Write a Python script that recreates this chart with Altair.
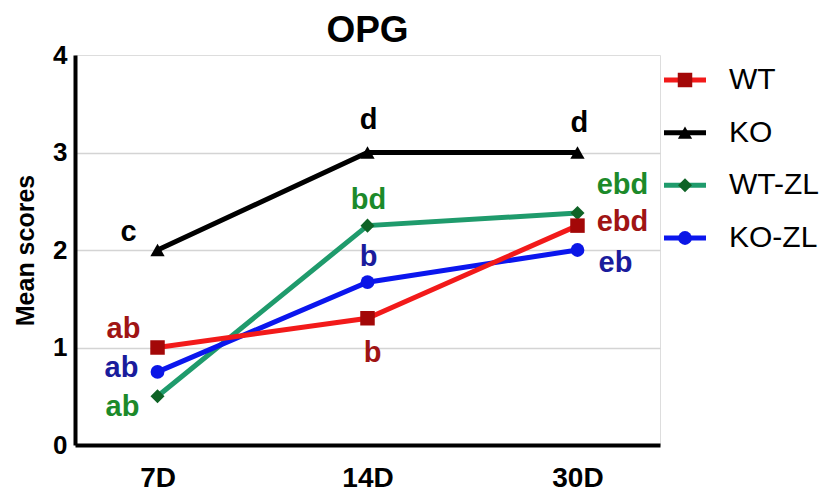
import altair as alt
import pandas as pd

days = ["7D", "14D", "30D"]
groups = ["WT", "KO", "WT-ZL", "KO-ZL"]
wt = [1.0, 1.3, 2.25]
ko = [2.0, 3.0, 3.0]
wt_zl = [0.5, 2.25, 2.38]
ko_zl = [0.75, 1.67, 2.0]
wt_letters = ["ab", "b", "ebd"]
ko_letters = ["c", "d", "d"]
wt_zl_letters = ["ab", "bd", "ebd"]
ko_zl_letters = ["ab", "b", "eb"]

series = {"WT": (wt, wt_letters), "KO": (ko, ko_letters),
          "WT-ZL": (wt_zl, wt_zl_letters), "KO-ZL": (ko_zl, ko_zl_letters)}
draw_order = ["WT-ZL", "KO-ZL", "WT", "KO"]
rows = []
for g in draw_order:
    vals, lets = series[g]
    for d, v, l in zip(days, vals, lets):
        rows.append({"group": g, "day": d, "value": v, "letter": l})
df = pd.DataFrame(rows)
legend_df = pd.DataFrame({"group": groups})

line_colors = ["#f21a1a", "#000000", "#1f9b6c", "#0b16ee"]
marker_colors = ["#a30808", "#000000", "#0f6326", "#0b16e6"]
letter_colors = {"WT": "#a01414", "KO": "#000000", "WT-ZL": "#1c8a2a", "KO-ZL": "#1a1c9c"}
shapes = ["square", "triangle-up", "diamond", "circle"]
sizes = {"WT": 210, "KO": 190, "WT-ZL": 150, "KO-ZL": 190}

FONT = "Liberation Sans"

x_enc = alt.X("day:N", sort=days,
              scale=alt.Scale(type="point", padding=0.393),
              axis=alt.Axis(title=None, labelAngle=0, labelFontSize=28, labelFontWeight="bold",
                            labelFont=FONT, labelColor="black", domainWidth=4, domainColor="black",
                            ticks=False, tickSize=0, labelPadding=19, grid=False))
y_enc = alt.Y("value:Q", scale=alt.Scale(domain=[0, 4]),
              axis=alt.Axis(title="Mean scores", values=[0, 1, 2, 3, 4], titleFontSize=25,
                            titleFont=FONT, titleFontWeight="bold", titleColor="black",
                            labelFontSize=26, labelFontWeight="bold", labelFont=FONT,
                            labelColor="black", domainWidth=4, domainColor="black",
                            ticks=False, tickSize=0, labelPadding=8, titlePadding=14,
                            grid=True, gridColor="#d4d4d4", gridWidth=1.5,
                            gridOpacity=alt.condition("datum.value == 4 || datum.value == 0",
                                                      alt.value(0), alt.value(1))))

color_scale = alt.Scale(domain=groups, range=line_colors)
fill_scale = alt.Scale(domain=groups, range=marker_colors)
shape_scale = alt.Scale(domain=groups, range=shapes)
size_scale = alt.Scale(domain=groups, range=[sizes[g] for g in groups])

lines = alt.Chart(df).mark_line(strokeWidth=5).encode(
    x=x_enc, y=y_enc,
    color=alt.Color("group:N", scale=color_scale, legend=None),
    detail="group:N",
)

points = alt.Chart(df).mark_point(filled=True, opacity=1).encode(
    x=x_enc, y=y_enc,
    fill=alt.Fill("group:N", scale=fill_scale, legend=None),
    shape=alt.Shape("group:N", scale=shape_scale, legend=None),
    size=alt.Size("group:N", scale=size_scale, legend=None),
)

offsets = {
    ("WT", "7D"): (-34, -19), ("WT", "14D"): (5, 35), ("WT", "30D"): (45, -4),
    ("KO", "7D"): (-29, -18), ("KO", "14D"): (1, -33), ("KO", "30D"): (2, -30),
    ("WT-ZL", "7D"): (-35, 11), ("WT-ZL", "14D"): (1, -26), ("WT-ZL", "30D"): (45, -28),
    ("KO-ZL", "7D"): (-36, -4), ("KO-ZL", "14D"): (1, -25), ("KO-ZL", "30D"): (38, 13),
}
texts = []
for (g, d), (dx, dy) in offsets.items():
    texts.append(
        alt.Chart(df).transform_filter(
            (alt.datum.group == g) & (alt.datum.day == d)
        ).mark_text(dx=dx, dy=dy, fontSize=29, fontWeight="bold", font=FONT,
                    color=letter_colors[g], baseline="middle", align="center").encode(
            x=x_enc, y=y_enc, text="letter:N")
    )

main = alt.layer(lines, points, *texts)

leg_y = alt.Y("group:N", scale=alt.Scale(type="point", domain=groups, range=[25, 183], padding=0),
              axis=None)
leg_lines = alt.Chart(legend_df).mark_rule(strokeWidth=5).encode(
    x=alt.value(589), x2=alt.value(631), y=leg_y,
    color=alt.Color("group:N", scale=color_scale, legend=None))
leg_pts = alt.Chart(legend_df).mark_point(filled=True, opacity=1).encode(
    x=alt.value(610), y=leg_y,
    fill=alt.Fill("group:N", scale=fill_scale, legend=None),
    shape=alt.Shape("group:N", scale=shape_scale, legend=None),
    size=alt.Size("group:N", scale=size_scale, legend=None))
leg_txt = alt.Chart(legend_df).mark_text(align="left", baseline="middle", fontSize=30,
                                         font=FONT, color="black").encode(
    x=alt.value(654), y=leg_y, text="group:N")
leg = alt.layer(leg_lines, leg_pts, leg_txt)

chart = alt.layer(main, leg).resolve_scale(y="independent").properties(
    width=585, height=390,
    padding={"left": 5, "top": 4, "right": 0, "bottom": 0},
    title=alt.TitleParams("OPG", fontSize=37, font=FONT, fontWeight="bold", color="black",
                          anchor="middle", frame="group", offset=-8),
).configure_view(stroke=None).configure(background="white")

chart.save("out.html", embed_options={"renderer": "svg", "actions": False})
